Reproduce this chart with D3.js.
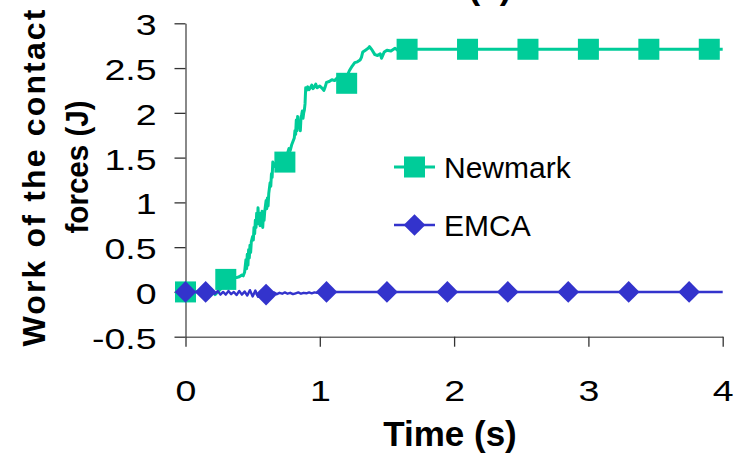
<!DOCTYPE html>
<html>
<head>
<meta charset="utf-8">
<script src="https://cdn.jsdelivr.net/npm/d3@7"></script>
<style>
  html, body { margin: 0; padding: 0; background: #fff; }
  svg { display: block; font-family: Arial, "Liberation Sans", sans-serif; }
</style>
</head>
<body>
<svg id="chart" width="734" height="456"></svg>
<script>
// Work of the contact forces over time for two integration schemes.
const newmarkTime = [
  0, 0.05, 0.10, 0.15, 0.18, 0.20, 0.22, 0.24, 0.26, 0.28, 0.30, 0.32, 0.34, 0.36, 0.38, 0.40,
  0.42, 0.43, 0.44, 0.45, 0.455, 0.46, 0.465, 0.47, 0.475, 0.48, 0.485, 0.49, 0.50, 0.505,
  0.51, 0.515, 0.52, 0.525, 0.53, 0.535, 0.54, 0.545, 0.55, 0.555, 0.56, 0.565, 0.57, 0.575,
  0.58, 0.585, 0.59, 0.60, 0.605, 0.61, 0.615, 0.62, 0.63, 0.635, 0.64, 0.645, 0.65, 0.66,
  0.68, 0.70, 0.72, 0.74, 0.76, 0.77, 0.78, 0.79, 0.80, 0.81, 0.815, 0.82, 0.825, 0.83, 0.835,
  0.84, 0.845, 0.85, 0.855, 0.86, 0.865, 0.87, 0.875, 0.88, 0.885, 0.89, 0.895, 0.90, 0.91,
  0.92, 0.93, 0.94, 0.95, 0.96, 0.97, 0.98, 1.00, 1.02, 1.03, 1.04, 1.05, 1.07, 1.09, 1.11,
  1.13, 1.15, 1.17, 1.20, 1.22, 1.24, 1.26, 1.28, 1.30, 1.31, 1.32, 1.34, 1.36, 1.37, 1.39,
  1.41, 1.43, 1.45, 1.46, 1.48, 1.50, 1.53, 1.56, 1.58, 1.60, 1.65, 4.00
];
const newmarkWork = [
  0, 0.0, 0.005, 0.0, -0.01, 0.01, -0.03, 0.0, 0.03, 0.08, 0.14, 0.16, 0.15, 0.17, 0.16, 0.17,
  0.19, 0.18, 0.22, 0.36, 0.26, 0.42, 0.30, 0.47, 0.38, 0.52, 0.44, 0.56, 0.62, 0.58,
  0.72, 0.65, 0.80, 0.72, 0.88, 0.76, 0.94, 0.80, 0.86, 0.74, 0.88, 0.76, 0.90, 0.72,
  0.86, 0.80, 0.90, 1.02, 0.93, 1.05, 0.96, 1.10, 1.22, 1.18, 1.32, 1.28, 1.45, 1.40,
  1.46, 1.44, 1.47, 1.45, 1.55, 1.60, 1.58, 1.64, 1.68, 1.72, 1.80, 1.76, 1.92, 1.80, 1.96,
  1.84, 1.90, 1.86, 1.80, 1.95, 1.98, 2.02, 1.94, 2.00, 2.03, 2.10, 2.28, 2.25, 2.29,
  2.26, 2.28, 2.31, 2.27, 2.29, 2.32, 2.28, 2.30, 2.27, 2.25, 2.29, 2.34, 2.35, 2.37, 2.36,
  2.39, 2.40, 2.41, 2.40, 2.47, 2.52, 2.56, 2.57, 2.59, 2.62, 2.68, 2.70, 2.72, 2.74, 2.70,
  2.65, 2.64, 2.66, 2.61, 2.68, 2.70, 2.69, 2.72, 2.70, 2.73, 2.71, 2.71
];
const newmarkMarkTime = [0, 0.30, 0.74, 1.20, 1.65, 2.10, 2.55, 3.00, 3.45, 3.90];
const newmarkMarkWork = [0, 0.14, 1.45, 2.33, 2.71, 2.71, 2.71, 2.71, 2.71, 2.71];

const emcaTime = [
  0, 0.15, 0.20, 0.22, 0.24, 0.26, 0.28, 0.30, 0.32, 0.34, 0.36, 0.38, 0.40, 0.42, 0.44,
  0.46, 0.48, 0.50, 0.52, 0.54, 0.56, 0.60, 0.64, 0.66, 0.68, 0.70, 0.72, 0.74, 0.76, 0.78,
  0.80, 0.82, 0.84, 0.86, 0.88, 0.90, 0.92, 0.94, 0.96, 0.98, 1.05, 4.00
];
const emcaWork = [
  0, 0, 0.0, -0.02, 0.01, -0.03, 0.0, -0.03, 0.01, -0.025, 0.0, -0.035, 0.01, -0.03, 0.005,
  -0.04, 0.02, -0.05, 0.015, -0.055, 0.0, -0.03, -0.02, -0.005, -0.025, -0.01, -0.02, -0.005, -0.02, -0.01,
  -0.025, -0.015, -0.005, -0.02, -0.01, -0.015, -0.005, -0.015, -0.005, -0.01, 0, 0
];
const emcaMarkTime = [0, 0.15, 0.60, 1.05, 1.50, 1.95, 2.40, 2.85, 3.30, 3.75];
const emcaMarkWork = [0, 0, -0.03, 0, 0, 0, 0, 0, 0, 0];

const seriesNames = ["Newmark", "EMCA"];
const seriesColors = ["#00CC99", "#3333CC"];
const xTicks = [0, 1, 2, 3, 4];
const yTicks = [-0.5, 0, 0.5, 1, 1.5, 2, 2.5, 3];
const xTitle = "Time (s)";
const yTitleLines = ["Work of the contact", "forces (J)"];
const chartTitle = "(c)";

const svg = d3.select("#chart");
const x = d3.scaleLinear().domain([0, 4]).range([185.5, 722.7]);
const y = d3.scaleLinear().domain([-0.5, 3]).range([336.7, 23.3]);

// plain labels with an ASCII hyphen for negatives
const plain = d => String(d);

// axes
const yAxis = svg.append("g")
  .attr("transform", `translate(${x(0)},0)`)
  .call(d3.axisLeft(y).tickValues(yTicks).tickSize(11).tickSizeOuter(0).tickFormat(plain));
const xAxis = svg.append("g")
  .attr("transform", `translate(0,${y(-0.5)})`)
  .call(d3.axisBottom(x).tickValues(xTicks).tickSize(10).tickSizeOuter(0).tickFormat(plain));

[yAxis, xAxis].forEach(g => {
  g.select(".domain").attr("stroke", "#6b6b6b").attr("stroke-width", 1.6);
  g.selectAll(".tick line").attr("stroke", "#333").attr("stroke-width", 1.3);
  g.selectAll(".tick text").attr("fill", "#000").style("font-size", "30px")
    .style("font-family", 'Arial, "Liberation Sans", sans-serif');
});
yAxis.selectAll(".tick text")
  .attr("x", null).attr("dy", "0.38em")
  .attr("text-anchor", "end")
  .attr("transform", "translate(-29,0) scale(1.25,1)");
xAxis.selectAll(".tick text")
  .attr("y", 0).attr("dy", 0)
  .attr("text-anchor", "middle")
  .attr("transform", "translate(0,64) scale(1.25,1)");

// series
const line = d3.line().x(d => x(d[0])).y(d => y(d[1]));
const newmarkPts = d3.zip(newmarkTime, newmarkWork);
const emcaPts = d3.zip(emcaTime, emcaWork);

const sq = 21;
const diamondPath = d3.symbol().type(d3.symbolDiamond2 || d3.symbolDiamond).size(300)();

svg.append("path").datum(newmarkPts)
  .attr("d", line).attr("fill", "none")
  .attr("stroke", seriesColors[0]).attr("stroke-width", 3)
  .attr("stroke-linejoin", "round");
svg.append("g").selectAll("rect")
  .data(d3.zip(newmarkMarkTime, newmarkMarkWork)).join("rect")
  .attr("x", d => x(d[0]) - sq / 2).attr("y", d => y(d[1]) - sq / 2)
  .attr("width", sq).attr("height", sq).attr("fill", seriesColors[0]);

svg.append("path").datum(emcaPts)
  .attr("d", line).attr("fill", "none")
  .attr("stroke", seriesColors[1]).attr("stroke-width", 2.4)
  .attr("stroke-linejoin", "round");
svg.append("g").selectAll("path")
  .data(d3.zip(emcaMarkTime, emcaMarkWork)).join("path")
  .attr("d", diamondPath)
  .attr("transform", d => `translate(${x(d[0])},${y(d[1])})`)
  .attr("fill", seriesColors[1]);

// legend
const legend = svg.append("g").attr("transform", "translate(394,167)");
seriesNames.forEach((name, i) => {
  const row = legend.append("g").attr("transform", `translate(0,${i * 58})`);
  row.append("line").attr("x1", 0).attr("x2", 41).attr("y1", 0).attr("y2", 0)
    .attr("stroke", seriesColors[i]).attr("stroke-width", i === 0 ? 3 : 2.4);
  if (i === 0) {
    row.append("rect").attr("x", 20.5 - sq / 2).attr("y", -sq / 2)
      .attr("width", sq).attr("height", sq).attr("fill", seriesColors[i]);
  } else {
    row.append("path").attr("d", diamondPath)
      .attr("transform", "translate(20.5,0)").attr("fill", seriesColors[i]);
  }
  row.append("text").attr("x", 50).attr("y", 11)
    .style("font-size", "30px").attr("fill", "#000").text(name);
});

// titles
svg.append("text").attr("x", 450).attr("y", 446)
  .attr("text-anchor", "middle").style("font-size", "35px").style("font-weight", "bold")
  .text(xTitle);

svg.append("text")
  .attr("transform", "translate(45,178) rotate(-90)")
  .attr("text-anchor", "middle").style("font-size", "32px").style("font-weight", "bold")
  .attr("textLength", 337).attr("lengthAdjust", "spacing")
  .text(yTitleLines[0]);
svg.append("text")
  .attr("transform", "translate(88,167) rotate(-90)")
  .attr("text-anchor", "middle").style("font-size", "32px").style("font-weight", "bold")
  .attr("textLength", 133).attr("lengthAdjust", "spacingAndGlyphs")
  .text(yTitleLines[1]);

svg.append("text").attr("x", 490).attr("y", -1)
  .attr("text-anchor", "middle").style("font-size", "35px").style("font-weight", "bold")
  .text(chartTitle);
</script>
</body>
</html>
